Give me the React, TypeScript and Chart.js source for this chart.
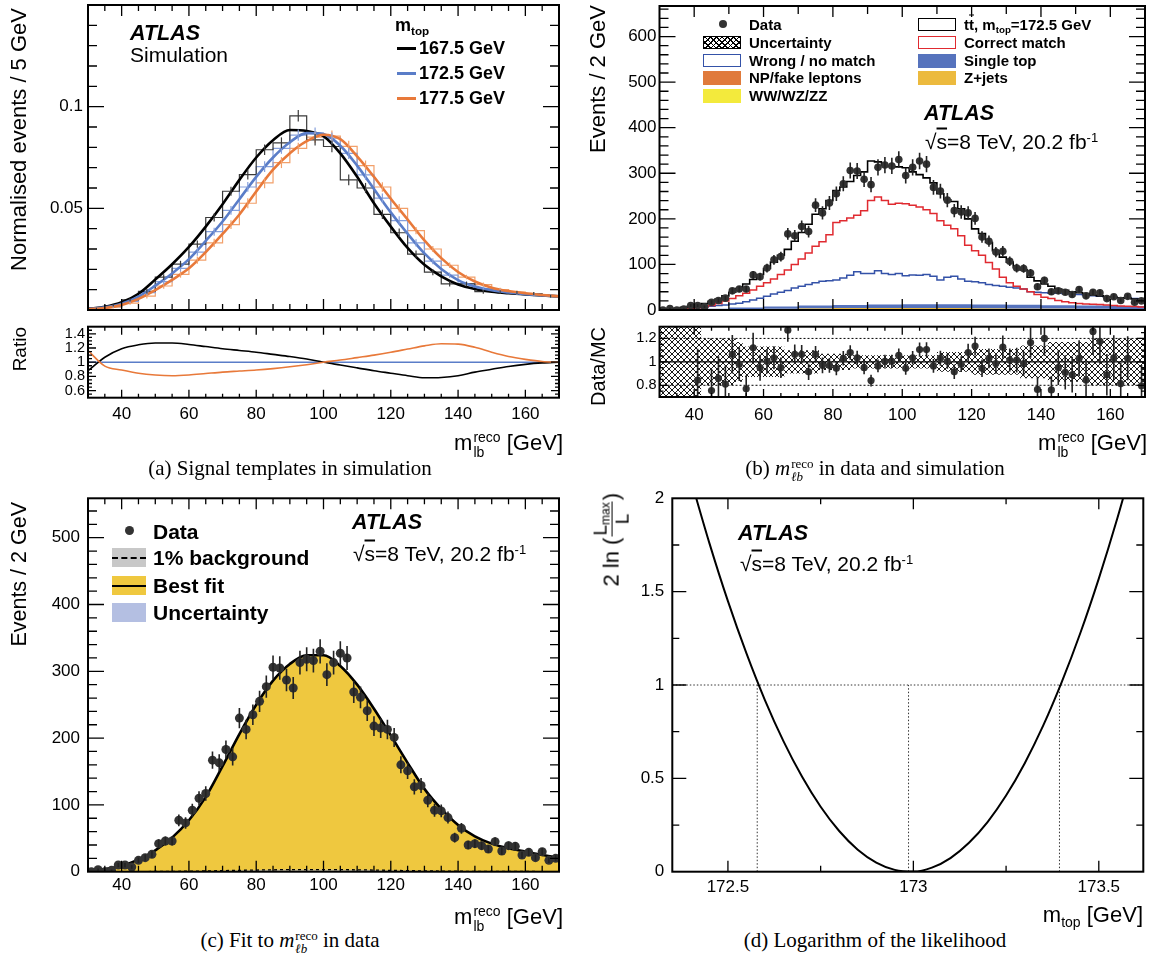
import React, { useEffect, useRef } from "react";
import { Chart, registerables } from "chart.js";

Chart.register(...registerables);

const SANS = "'Liberation Sans', Arial, Helvetica, sans-serif";
const SERIF = "'Liberation Serif', 'Times New Roman', serif";
const TICK_FONT = 17;

// ---------------- shared m_lb axis ----------------
const MLB_MIN = 30;
const MLB_MAX = 170;
const mlbTicks = [40, 60, 80, 100, 120, 140, 160];

// ---------------- (a) signal templates (5 GeV) ----------------
const TEMPLATE_BIN = 5;
const curve1675 = [0.0006, 0.0016, 0.0038, 0.008, 0.015, 0.0225, 0.031, 0.041, 0.052, 0.064, 0.075, 0.0835, 0.0885, 0.088, 0.0855, 0.077, 0.0655, 0.0525, 0.041, 0.0305, 0.0222, 0.0165, 0.0125, 0.0103, 0.009, 0.0082, 0.0076, 0.0071, 0.0067];
const curve1725 = [0.0005, 0.0013, 0.0031, 0.0066, 0.012, 0.018, 0.025, 0.034, 0.0435, 0.0545, 0.0655, 0.075, 0.0825, 0.087, 0.0865, 0.0808, 0.071, 0.0595, 0.048, 0.0375, 0.0278, 0.0202, 0.0147, 0.0115, 0.0097, 0.0086, 0.0078, 0.0072, 0.0067];
const curve1775 = [0.0004, 0.001, 0.0025, 0.0055, 0.0098, 0.0148, 0.0205, 0.0285, 0.0374, 0.047, 0.0583, 0.069, 0.0771, 0.083, 0.0862, 0.084, 0.0756, 0.0655, 0.0547, 0.0445, 0.0342, 0.0255, 0.0187, 0.014, 0.011, 0.0093, 0.0082, 0.0074, 0.0067];
const hist1675 = [0.0008, 0.0022, 0.005, 0.0092, 0.0162, 0.0226, 0.0324, 0.0455, 0.0584, 0.0666, 0.0788, 0.0822, 0.0955, 0.0837, 0.0804, 0.064, 0.06, 0.047, 0.038, 0.0275, 0.0186, 0.0128, 0.0128, 0.009, 0.0088, 0.0085, 0.008, 0.0068];
const hist1725 = [0.0006, 0.0017, 0.0042, 0.0085, 0.014, 0.0205, 0.0285, 0.0385, 0.049, 0.0605, 0.0705, 0.0795, 0.086, 0.087, 0.0845, 0.077, 0.0665, 0.055, 0.044, 0.033, 0.024, 0.0172, 0.013, 0.0105, 0.0092, 0.0082, 0.0075, 0.0069];
const hist1775 = [0.0005, 0.0014, 0.0034, 0.0068, 0.0118, 0.0175, 0.0245, 0.033, 0.042, 0.0525, 0.0625, 0.0725, 0.0795, 0.085, 0.0855, 0.0805, 0.071, 0.0605, 0.05, 0.039, 0.03, 0.022, 0.0162, 0.0125, 0.01, 0.0088, 0.0078, 0.007];
const histErr = [0.0003, 0.0005, 0.0008, 0.0011, 0.0014, 0.0016, 0.0018, 0.002, 0.0022, 0.0024, 0.0026, 0.0027, 0.0028, 0.0028, 0.0028, 0.0027, 0.0025, 0.0023, 0.0021, 0.0018, 0.0015, 0.0013, 0.0011, 0.001, 0.0009, 0.0008, 0.0008, 0.0007];
const ratio1675 = [0.88, 1.07, 1.19, 1.245, 1.27, 1.27, 1.25, 1.22, 1.19, 1.165, 1.14, 1.11, 1.08, 1.045, 1.0, 0.96, 0.92, 0.88, 0.845, 0.81, 0.78, 0.785, 0.81, 0.86, 0.9, 0.94, 0.97, 0.99, 1.0];
const ratio1725 = [1, 1, 1, 1, 1, 1, 1, 1, 1, 1, 1, 1, 1, 1, 1, 1, 1, 1, 1, 1, 1, 1, 1, 1, 1, 1, 1, 1, 1];
const ratio1775 = [1.165, 0.945, 0.89, 0.845, 0.82, 0.81, 0.82, 0.84, 0.86, 0.875, 0.89, 0.91, 0.935, 0.965, 1.0, 1.03, 1.065, 1.1, 1.14, 1.185, 1.23, 1.26, 1.255, 1.21, 1.14, 1.08, 1.04, 1.01, 1.0];
const aYTicks = [0.05, 0.1];
const aRatioTicks = [0.6, 0.8, 1, 1.2, 1.4];

// ---------------- (b)/(c) data and simulation (2 GeV) ----------------
const DATA_BIN = 2;
const dataCounts = [0, 3, 0, 2, 10, 10, 7, 17, 21, 26, 42, 46, 46, 77, 73, 92, 110, 117, 167, 163, 183, 172, 230, 213, 235, 255, 277, 306, 305, 287, 275, 313, 318, 316, 330, 295, 313, 327, 320, 269, 261, 241, 218, 215, 213, 201, 160, 151, 127, 129, 107, 92, 91, 81, 51, 65, 40, 42, 39, 34, 45, 31, 39, 38, 25, 29, 21, 30, 17, 20];
const mcTotal = [2, 3, 4, 6, 8, 11, 14, 19, 24, 31, 39, 47, 57, 67, 78, 91, 105, 120, 133, 151, 170, 188, 210, 222, 240, 262, 270, 282, 295, 303, 327, 325, 317, 315, 314, 312, 303, 297, 290, 279, 255, 242, 238, 222, 200, 178, 168, 148, 130, 116, 105, 93, 88, 72, 64, 57, 52, 46, 43, 40, 38, 36, 33, 31, 29, 28, 27, 26, 24, 23];
const correctMatch = [0.5, 1, 1.5, 2.5, 3.5, 5, 7, 10, 14, 20, 25, 31, 37, 44, 52, 60, 68, 78, 88, 100, 112, 125, 140, 150, 165, 192, 196, 202, 208, 218, 240, 248, 240, 232, 234, 233, 230, 226, 220, 212, 196, 186, 178, 163, 142, 130, 120, 104, 90, 72, 60, 52, 46, 40, 34, 28, 25, 21, 18, 16, 14, 13, 12.5, 12, 11, 10, 9, 8.5, 7.5, 6.5];
const wrongMatch = [0.5, 1, 1.5, 2.5, 3.5, 5, 6.5, 8, 10, 11, 13, 15, 18, 22, 26, 30, 35, 39, 43, 48, 52, 56, 60, 63, 64, 66, 70, 76, 84, 80, 80, 86, 80, 78, 80, 75, 77, 76, 78, 74, 66, 72, 74, 68, 63, 62, 60, 56, 54, 52, 50, 48, 46, 40, 39, 38, 37, 37, 36, 35, 34, 32, 31, 30, 29, 28, 27, 26, 25, 24];
const BKG_BIN = 10;
const diboson = [0.05, 0.1, 0.15, 0.2, 0.25, 0.3, 0.3, 0.3, 0.3, 0.28, 0.25, 0.22, 0.2, 0.18];
const npFake = [0.1, 0.3, 0.6, 0.8, 1, 1.1, 1.2, 1.2, 1.1, 1, 0.9, 0.8, 0.7, 0.6];
const zJets = [0.3, 0.8, 1.5, 2, 2.5, 2.8, 3, 3, 2.8, 2.5, 2.2, 2, 1.8, 1.6];
const singleTop = [0.5, 1.5, 3, 4.5, 6, 7, 7.5, 8, 8.5, 8.5, 8, 7.5, 7, 6.5];
const dataOverMC = [null, null, null, null, null, 0.845, null, 0.755, 0.86, 0.81, 1.065, 0.98, 0.77, 1.12, 0.95, 1.005, 1.035, 0.95, 1.27, 1.065, 1.065, 0.915, 1.065, 0.97, 0.97, 0.945, 1.03, 1.08, 1.035, 0.95, 0.84, 0.965, 1.005, 1.005, 1.055, 0.945, 1.035, 1.105, 1.105, 0.965, 1.03, 1.005, 0.915, 0.98, 1.08, 1.135, 0.945, 1.03, 0.985, 1.125, 1.015, 1.015, 0.985, 1.165, 0.765, 1.2, 0.76, 0.95, 0.91, 0.89, 1.03, 0.845, 1.26, 1.175, 0.89, 1.035, 0.815, 1.03, null, 0.795];
const mcUncHalf = [0.5, 0.5, 0.5, 0.5, 0.5, 0.5, 0.2, 0.2, 0.2, 0.2, 0.2, 0.17, 0.13, 0.13, 0.13, 0.13, 0.13, 0.13, 0.1, 0.1, 0.1, 0.1, 0.1, 0.07, 0.07, 0.07, 0.07, 0.07, 0.056, 0.056, 0.056, 0.056, 0.056, 0.056, 0.056, 0.056, 0.056, 0.056, 0.056, 0.056, 0.085, 0.085, 0.085, 0.085, 0.085, 0.11, 0.11, 0.11, 0.11, 0.11, 0.11, 0.11, 0.14, 0.14, 0.14, 0.14, 0.17, 0.17, 0.17, 0.17, 0.17, 0.17, 0.2, 0.2, 0.2, 0.2, 0.2, 0.2, 0.2, 0.2];
const bYTicks = [0, 100, 200, 300, 400, 500, 600];
const bRatioTicks = [0.8, 1, 1.2];
const bRatioRefs = [0.8, 1.2];
const RATIO_UNITY = 1;

// ---------------- (c) fit ----------------
const FIT_STEP = 5;
const fitCurve = [1.5, 4, 9, 18, 32, 51, 77, 112, 158, 206, 250, 286, 311, 324, 324, 308, 280, 244, 204, 163, 124, 94, 70, 53, 42, 35, 30, 25, 21];
const bkgCurve = [0.02, 0.04, 0.09, 0.18, 0.32, 0.51, 0.77, 1.12, 1.58, 2.06, 2.5, 2.86, 3.11, 3.24, 3.24, 3.08, 2.8, 2.44, 2.04, 1.63, 1.24, 0.94, 0.7, 0.53, 0.42, 0.35, 0.3, 0.25, 0.21];
const cYTicks = [0, 100, 200, 300, 400, 500];

// ---------------- (d) likelihood ----------------
const MTOP_MIN = 172.35;
const MTOP_MAX = 173.62;
const mtopScan = [172.4, 172.45, 172.5, 172.55, 172.6, 172.65, 172.7, 172.75, 172.8, 172.85, 172.9, 172.95, 173.0, 173.05, 173.1, 173.15, 173.2, 173.25, 173.3, 173.35, 173.4, 173.45, 173.5, 173.55, 173.6];
const twoDeltaLnL = [2.1, 1.76, 1.449, 1.169, 0.918, 0.698, 0.508, 0.348, 0.218, 0.118, 0.049, 0.0097, 0.0006, 0.0217, 0.073, 0.155, 0.266, 0.408, 0.58, 0.782, 1.015, 1.277, 1.57, 1.893, 2.246];
const mtopInterval = [172.579, 172.987, 173.394];
const ONE_SIGMA_LEVEL = 1;
const dXTicks = [172.5, 173, 173.5];
const dYTicks = [0, 0.5, 1, 1.5, 2];

// ---------------- helpers ----------------
const histPts = (vals: number[], start: number, w: number) =>
  vals.flatMap((v, i) => [{ x: start + i * w, y: v }, { x: start + (i + 1) * w, y: v }]);
const linePts = (vals: any[], start: number, step: number, offset = 0) =>
  vals.map((v, i) => ({ x: start + offset + i * step, y: v }));
const cumulate = (...arrs: number[][]) => arrs[0].map((_, i) => arrs.reduce((s, a) => s + a[i], 0));

type Rect = { l: number; t: number; w: number; h: number };
type Frame = { l: number; t: number; r: number; b: number };
type Axis = {
  min: number; max: number; ticks?: number[]; font?: number; pad?: number;
  major: number; minor: number; majLen: number; minLen: number;
};

function makeFramePlugin(xa: Axis, ya: Axis) {
  const gen = (min: number, max: number, step: number) => {
    const out: number[] = [];
    const k0 = Math.ceil(min / step - 1e-6), k1 = Math.floor(max / step + 1e-6);
    for (let k = k0; k <= k1; k++) out.push(+(k * step).toFixed(6));
    return out;
  };
  const isMaj = (v: number, m: number) => Math.abs(v / m - Math.round(v / m)) < 1e-6;
  return {
    id: "frameTicks",
    afterDraw(chart: any) {
      const { ctx, chartArea: a } = chart;
      const sx = chart.scales.x, sy = chart.scales.y;
      ctx.save();
      ctx.strokeStyle = "#000";
      ctx.lineWidth = 1.3;
      ctx.beginPath();
      for (const v of gen(xa.min, xa.max, xa.minor)) {
        const p = sx.getPixelForValue(v);
        if (p <= a.left + 1 || p >= a.right - 1) continue;
        const len = isMaj(v, xa.major) ? xa.majLen : xa.minLen;
        ctx.moveTo(p, a.bottom); ctx.lineTo(p, a.bottom - len);
        ctx.moveTo(p, a.top); ctx.lineTo(p, a.top + len);
      }
      for (const v of gen(ya.min, ya.max, ya.minor)) {
        const p = sy.getPixelForValue(v);
        if (p <= a.top + 1 || p >= a.bottom - 1) continue;
        const len = isMaj(v, ya.major) ? ya.majLen : ya.minLen;
        ctx.moveTo(a.left, p); ctx.lineTo(a.left + len, p);
        ctx.moveTo(a.right, p); ctx.lineTo(a.right - len, p);
      }
      ctx.stroke();
      ctx.lineWidth = 2;
      ctx.strokeRect(a.left, a.top, a.right - a.left, a.bottom - a.top);
      ctx.restore();
    },
  };
}

const errorBarPlugin = {
  id: "errorBars",
  afterDatasetsDraw(chart: any) {
    const { ctx, chartArea: a } = chart;
    const sx = chart.scales.x, sy = chart.scales.y;
    ctx.save();
    ctx.beginPath();
    ctx.rect(a.left, a.top, a.right - a.left, a.bottom - a.top);
    ctx.clip();
    chart.data.datasets.forEach((ds: any) => {
      const errs = ds.errorBars;
      if (!errs) return;
      ctx.strokeStyle = ds.errorColor || "#222";
      ctx.lineWidth = ds.errorWidth || 1.5;
      ds.data.forEach((p: any, j: number) => {
        if (!p || p.y == null || errs[j] == null) return;
        const x = sx.getPixelForValue(p.x);
        const y1 = sy.getPixelForValue(p.y - errs[j]);
        const y2 = sy.getPixelForValue(p.y + errs[j]);
        ctx.beginPath();
        ctx.moveTo(x, y1);
        ctx.lineTo(x, y2);
        ctx.stroke();
      });
    });
    ctx.restore();
  },
};

function axisOpts(ax: Axis, isY: boolean, size: number, showLabels: boolean) {
  return {
    type: "linear",
    min: ax.min,
    max: ax.max,
    display: true,
    afterFit: (s: any) => {
      if (isY) s.width = size;
      else s.height = size;
    },
    afterBuildTicks: (s: any) => {
      if (ax.ticks) s.ticks = ax.ticks.map((v) => ({ value: v }));
    },
    ticks: {
      display: showLabels,
      font: { family: SANS, size: ax.font || TICK_FONT },
      color: "#000",
      padding: ax.pad ?? 4,
      autoSkip: false,
      maxRotation: 0,
      minRotation: 0,
      callback: (v: any) => String(v),
    },
    grid: { display: false, drawTicks: false },
    border: { display: false },
  };
}

function buildChart(canvas: HTMLCanvasElement, rect: Rect, fr: Frame, xa: Axis, ya: Axis, datasets: any[]) {
  const showX = !!xa.ticks;
  const padTop = fr.t - rect.t;
  const padRight = rect.l + rect.w - fr.r;
  const yW = fr.l - rect.l;
  const bottomSpace = rect.t + rect.h - fr.b;
  // first dataset in the list is drawn first (bottom), last on top
  const ordered = datasets.map((d, i) => ({ ...d, order: datasets.length - i }));
  return new Chart(canvas, {
    type: "line",
    data: { datasets: ordered },
    options: {
      animation: false,
      responsive: false,
      maintainAspectRatio: false,
      events: [],
      layout: { padding: { left: 0, top: padTop, right: padRight, bottom: 0 } },
      plugins: { legend: { display: false }, tooltip: { enabled: false } },
      elements: { point: { radius: 0 }, line: { tension: 0 } },
      scales: {
        x: axisOpts(xa, false, bottomSpace, showX),
        y: axisOpts(ya, true, yW, true),
      },
    } as any,
    plugins: [makeFramePlugin(xa, ya), errorBarPlugin],
  });
}

function makeHatch() {
  const c = document.createElement("canvas");
  c.width = 6;
  c.height = 6;
  const g = c.getContext("2d")!;
  g.strokeStyle = "#000";
  g.lineWidth = 0.9;
  g.beginPath();
  g.moveTo(-1, -1); g.lineTo(7, 7);
  g.moveTo(7, -1); g.lineTo(-1, 7);
  g.stroke();
  return g.createPattern(c, "repeat");
}

// ---------------- layout (page coordinates) ----------------
const R_A = { l: 0, t: -20, w: 576, h: 350 };
const F_A = { l: 88, t: 5, r: 559, b: 310 };
const R_AR = { l: 0, t: 300, w: 576, h: 135 };
const F_AR = { l: 88, t: 326.7, r: 559, b: 397.7 };
const R_B = { l: 576, t: -20, w: 577, h: 350 };
const F_B = { l: 659.5, t: 6, r: 1145, b: 310 };
const R_BR = { l: 576, t: 300, w: 577, h: 135 };
const F_BR = { l: 659.5, t: 326.7, r: 1145, b: 397 };
const R_C = { l: 0, t: 470, w: 576, h: 440 };
const F_C = { l: 88, t: 498.3, r: 559, b: 871.7 };
const R_D = { l: 576, t: 470, w: 577, h: 440 };
const F_D = { l: 672.3, t: 498.3, r: 1143.3, b: 871.7 };

const COL_BLACK = "#000";
const COL_BLUE = "#5a7dc8";
const COL_ORANGE = "#e8793a";

// ---------------- text helpers ----------------
const T = ({ x, y, size = 20, bold = false, italic = false, align = "left", family = SANS, children }: any) => {
  const tx = align === "left" ? "0" : align === "center" ? "-50%" : "-100%";
  return (
    <div
      style={{
        position: "absolute", left: x, top: y, transform: `translate(${tx}, -50%)`,
        fontFamily: family, fontSize: size, fontWeight: bold ? "bold" : "normal",
        fontStyle: italic ? "italic" : "normal", whiteSpace: "nowrap", lineHeight: 1, color: "#000",
      }}
    >
      {children}
    </div>
  );
};
const Sub = ({ children }: any) => (
  <span style={{ fontSize: "0.65em", position: "relative", top: "0.35em" }}>{children}</span>
);
const Sup = ({ children }: any) => (
  <span style={{ fontSize: "0.62em", position: "relative", top: "-0.55em" }}>{children}</span>
);
const VT = ({ cx, top, size, children }: any) => (
  <div style={{ position: "absolute", left: cx, top, width: 0, height: 0 }}>
    <div
      style={{
        position: "absolute", right: 0, top: 0, transformOrigin: "right top",
        transform: "rotate(-90deg) translateY(-50%)", whiteSpace: "nowrap", fontFamily: SANS,
        fontSize: size, lineHeight: 1, display: "flex", alignItems: "center",
      }}
    >
      {children}
    </div>
  </div>
);
const Mlb = ({ right, y }: any) => (
  <div
    style={{
      position: "absolute", left: right, top: y, transform: "translate(-100%, -50%)", display: "flex",
      alignItems: "center", fontFamily: SANS, fontSize: 22, lineHeight: 1, whiteSpace: "pre",
    }}
  >
    <span>m</span>
    <span style={{ display: "inline-flex", flexDirection: "column", fontSize: 14, lineHeight: 1.05, marginLeft: 1, marginTop: 3 }}>
      <span>reco</span>
      <span>lb</span>
    </span>
    <span> [GeV]</span>
  </div>
);
const MlbCaption = () => (
  <span style={{ display: "inline-flex", alignItems: "center" }}>
    <i>m</i>
    <span style={{ display: "inline-flex", flexDirection: "column", fontSize: 13, lineHeight: 1, marginLeft: 1, marginTop: 4 }}>
      <span>reco</span>
      <i>ℓb</i>
    </span>
  </span>
);
const Sqrt = () => (
  <span>
    √<span style={{ textDecoration: "overline" }}>s</span>=8 TeV, 20.2 fb<Sup>-1</Sup>
  </span>
);
const Box = ({ x, y, w, h, bg = "#fff", border = "none", children }: any) => (
  <div style={{ position: "absolute", left: x, top: y, width: w, height: h, background: bg, border, boxSizing: "border-box" }}>
    {children}
  </div>
);
const HATCH_CSS =
  "repeating-linear-gradient(45deg, #000 0 1px, transparent 1px 4px), repeating-linear-gradient(-45deg, #000 0 1px, transparent 1px 4px), #fff";

export default function App() {
  const rA = useRef<HTMLCanvasElement>(null);
  const rAR = useRef<HTMLCanvasElement>(null);
  const rB = useRef<HTMLCanvasElement>(null);
  const rBR = useRef<HTMLCanvasElement>(null);
  const rC = useRef<HTMLCanvasElement>(null);
  const rD = useRef<HTMLCanvasElement>(null);

  useEffect(() => {
    const hatch = makeHatch();
    const xMlbHidden = (minor: number, minLen: number): Axis => ({ min: MLB_MIN, max: MLB_MAX, major: 20, minor, majLen: 11, minLen });
    const xMlbLabelled = (pad: number, majLen: number, minLen: number): Axis => ({
      min: MLB_MIN, max: MLB_MAX, ticks: mlbTicks, font: TICK_FONT, pad, major: 20, minor: 5, majLen, minLen,
    });

    const dataErr = dataCounts.map((v) => Math.sqrt(v));
    const dataDs = (r: number) => ({
      data: linePts(dataCounts, MLB_MIN, DATA_BIN, DATA_BIN / 2), showLine: false, pointRadius: r,
      pointBackgroundColor: "#333", pointBorderColor: "#333", pointBorderWidth: 0,
      errorBars: dataErr, errorColor: "#222", errorWidth: 1.6,
    });

    // (a) main
    const tplHist = (vals: number[], col: string) => ({ data: histPts(vals, MLB_MIN, TEMPLATE_BIN), borderColor: col, borderWidth: 1.2, fill: false });
    const tplErr = (vals: number[], col: string) => ({
      data: linePts(vals, MLB_MIN, TEMPLATE_BIN, TEMPLATE_BIN / 2), showLine: false, pointRadius: 0,
      errorBars: histErr, errorColor: col, errorWidth: 1.2,
    });
    const tplCurve = (vals: number[], col: string, w: number) => ({
      data: linePts(vals, MLB_MIN, TEMPLATE_BIN), borderColor: col, borderWidth: w, cubicInterpolationMode: "monotone", fill: false,
    });
    const chA = buildChart(
      rA.current!, R_A, F_A, xMlbHidden(5, 6),
      { min: 0, max: 0.15, ticks: aYTicks, font: TICK_FONT, pad: 5, major: 0.05, minor: 0.01, majLen: 16, minLen: 9 },
      [
        tplHist(hist1775, "#f2a06a"), tplHist(hist1725, "#86a0dc"), tplHist(hist1675, "#3a3a3a"),
        tplErr(hist1775, "#f2a06a"), tplErr(hist1725, "#86a0dc"), tplErr(hist1675, "#3a3a3a"),
        tplCurve(curve1675, COL_BLACK, 2.6), tplCurve(curve1725, COL_BLUE, 2.6), tplCurve(curve1775, COL_ORANGE, 2.6),
      ]
    );
    const chAR = buildChart(
      rAR.current!, R_AR, F_AR, xMlbLabelled(6, 8, 4),
      { min: 0.5, max: 1.5, ticks: aRatioTicks, font: 14.5, pad: 3, major: 0.2, minor: 0.05, majLen: 8, minLen: 4 },
      [
        tplCurve(ratio1725, COL_BLUE, 1.5), tplCurve(ratio1675, COL_BLACK, 1.6), tplCurve(ratio1775, COL_ORANGE, 1.6),
      ]
    );

    // (b) main
    const ww = diboson;
    const wwNp = cumulate(diboson, npFake);
    const wwNpZ = cumulate(diboson, npFake, zJets);
    const wwNpZSt = cumulate(diboson, npFake, zJets, singleTop);
    const bkgDs = (vals: number[], col: string, fill: any) => ({ data: histPts(vals, MLB_MIN, BKG_BIN), borderWidth: 0, backgroundColor: col, fill });
    const chB = buildChart(
      rB.current!, R_B, F_B, xMlbHidden(10, 8),
      { min: 0, max: 667, ticks: bYTicks, font: TICK_FONT, pad: 3, major: 100, minor: 20, majLen: 16, minLen: 9 },
      [
        bkgDs(ww, "#f3ea3c", "origin"),
        bkgDs(wwNp, "#e07a3b", "-1"),
        bkgDs(wwNpZ, "#ecba3e", "-1"),
        bkgDs(wwNpZSt, "#5673bd", "-1"),
        { data: histPts(wrongMatch, MLB_MIN, DATA_BIN), borderColor: "#3452a8", borderWidth: 1.5, fill: false },
        { data: histPts(correctMatch, MLB_MIN, DATA_BIN), borderColor: "#e02a30", borderWidth: 1.5, fill: false },
        { data: histPts(mcTotal, MLB_MIN, DATA_BIN), borderColor: "#000", borderWidth: 1.6, fill: false },
        dataDs(3.8),
      ]
    );

    // (b) ratio
    const bandUp = mcUncHalf.map((h) => RATIO_UNITY + h);
    const bandDn = mcUncHalf.map((h) => RATIO_UNITY - h);
    const ratioErr = dataOverMC.map((r, i) => (r == null ? null : r / Math.sqrt(dataCounts[i])));
    const chBR = buildChart(
      rBR.current!, R_BR, F_BR, xMlbLabelled(8, 8, 4),
      { min: 0.7, max: 1.3, ticks: bRatioTicks, font: 14.5, pad: 3, major: 0.2, minor: 0.05, majLen: 8, minLen: 4 },
      [
        { data: histPts(bandUp, MLB_MIN, DATA_BIN), borderWidth: 0, backgroundColor: hatch, fill: "+1" },
        { data: histPts(bandDn, MLB_MIN, DATA_BIN), borderWidth: 0, fill: false },
        ...bRatioRefs.map((r) => ({
          data: [{ x: MLB_MIN, y: r }, { x: MLB_MAX, y: r }], borderColor: "#000", borderWidth: 1, borderDash: [2, 2], fill: false,
        })),
        { data: [{ x: MLB_MIN, y: RATIO_UNITY }, { x: MLB_MAX, y: RATIO_UNITY }], borderColor: "#000", borderWidth: 1.4, fill: false },
        {
          data: linePts(dataOverMC, MLB_MIN, DATA_BIN, DATA_BIN / 2), showLine: false, pointRadius: 3.6,
          pointBackgroundColor: "#333", pointBorderWidth: 0, errorBars: ratioErr, errorColor: "#222", errorWidth: 1.6,
        },
      ]
    );

    // (c)
    const chC = buildChart(
      rC.current!, R_C, F_C, xMlbLabelled(3, 11, 6),
      { min: 0, max: 559, ticks: cYTicks, font: TICK_FONT, pad: 8, major: 100, minor: 20, majLen: 16, minLen: 9 },
      [
        {
          data: linePts(fitCurve, MLB_MIN, FIT_STEP), borderColor: "#000", borderWidth: 2.6,
          backgroundColor: "#efc83f", fill: "origin", cubicInterpolationMode: "monotone",
        },
        {
          data: linePts(bkgCurve, MLB_MIN, FIT_STEP), borderColor: "#000", borderWidth: 1.3, borderDash: [3, 3],
          backgroundColor: "rgba(190,190,190,0.8)", fill: "origin", cubicInterpolationMode: "monotone",
        },
        dataDs(4.5),
      ]
    );

    // (d)
    const chD = buildChart(
      rD.current!, R_D, F_D,
      { min: MTOP_MIN, max: MTOP_MAX, ticks: dXTicks, font: TICK_FONT, pad: 5, major: 0.5, minor: 0.25, majLen: 11, minLen: 6 },
      { min: 0, max: 2, ticks: dYTicks, font: TICK_FONT, pad: 8, major: 0.5, minor: 0.25, majLen: 14, minLen: 7 },
      [
        { data: [{ x: MTOP_MIN, y: ONE_SIGMA_LEVEL }, { x: MTOP_MAX, y: ONE_SIGMA_LEVEL }], borderColor: "#333", borderWidth: 1, borderDash: [1.5, 2], fill: false },
        ...mtopInterval.map((m) => ({
          data: [{ x: m, y: 0 }, { x: m, y: ONE_SIGMA_LEVEL }], borderColor: "#333", borderWidth: 1, borderDash: [1.5, 2], fill: false,
        })),
        {
          data: mtopScan.map((m, i) => ({ x: m, y: twoDeltaLnL[i] })), borderColor: "#000", borderWidth: 2,
          cubicInterpolationMode: "monotone", fill: false,
        },
      ]
    );

    const charts = [chA, chAR, chB, chBR, chC, chD];
    return () => charts.forEach((c) => c.destroy());
  }, []);

  const cv = (ref: any, r: Rect) => (
    <canvas ref={ref} width={r.w} height={r.h} style={{ position: "absolute", left: r.l, top: r.t, width: r.w, height: r.h }} />
  );

  return (
    <div style={{ position: "absolute", left: 0, top: 0, width: 1153, height: 956, background: "#fff", overflow: "hidden", fontFamily: SANS }}>
      {cv(rA, R_A)}
      {cv(rAR, R_AR)}
      {cv(rB, R_B)}
      {cv(rBR, R_BR)}
      {cv(rC, R_C)}
      {cv(rD, R_D)}

      {/* ---------- (a) ---------- */}
      <T x={130} y={34} size={21.5} bold italic>ATLAS</T>
      <T x={130} y={54} size={21}>Simulation</T>
      <T x={395} y={25} size={18} bold>m<Sub>top</Sub></T>
      <Box x={397} y={47} w={19} h={3} bg={COL_BLACK} />
      <Box x={397} y={72} w={19} h={3} bg={COL_BLUE} />
      <Box x={397} y={97} w={19} h={3} bg={COL_ORANGE} />
      <T x={419} y={48} size={18} bold>167.5 GeV</T>
      <T x={419} y={73} size={18} bold>172.5 GeV</T>
      <T x={419} y={98} size={18} bold>177.5 GeV</T>
      <VT cx={19} top={8} size={22}>Normalised events / 5 GeV</VT>
      <VT cx={19} top={327} size={19}>Ratio</VT>
      <Mlb right={563} y={443} />
      <T x={290} y={468} size={21} family={SERIF} align="center">(a) Signal templates in simulation</T>

      {/* ---------- (b) ---------- */}
      <div style={{ position: "absolute", left: 719, top: 20, width: 8, height: 8, borderRadius: 4, background: "#333" }} />
      <Box x={703} y={36} w={38} h={13} bg={HATCH_CSS} border="1.5px solid #000" />
      <Box x={703} y={54} w={38} h={13} border="1.5px solid #3452a8" />
      <Box x={703} y={71} w={38} h={14} bg="#e07a3b" />
      <Box x={703} y={89} w={38} h={14} bg="#f3ea3c" />
      <T x={749} y={24} size={15} bold>Data</T>
      <T x={749} y={42} size={15} bold>Uncertainty</T>
      <T x={749} y={60} size={15} bold>Wrong / no match</T>
      <T x={749} y={77} size={15} bold>NP/fake leptons</T>
      <T x={749} y={95} size={15} bold>WW/WZ/ZZ</T>
      <Box x={918} y={18} w={38} h={13} border="1.5px solid #000" />
      <Box x={918} y={36} w={38} h={13} border="1.5px solid #e02a30" />
      <Box x={918} y={54} w={38} h={14} bg="#5673bd" />
      <Box x={918} y={71} w={38} h={14} bg="#ecba3e" />
      <T x={964} y={24} size={15} bold>
        t<span style={{ textDecoration: "overline" }}>t</span>, m<Sub>top</Sub>=172.5 GeV
      </T>
      <T x={964} y={42} size={15} bold>Correct match</T>
      <T x={964} y={60} size={15} bold>Single top</T>
      <T x={964} y={77} size={15} bold>Z+jets</T>
      <T x={924} y={114} size={21.5} bold italic>ATLAS</T>
      <T x={925} y={141} size={21}><Sqrt /></T>
      <VT cx={598} top={5} size={22}>Events / 2 GeV</VT>
      <VT cx={598} top={327} size={20}>Data/MC</VT>
      <Mlb right={1147} y={443} />
      <T x={875} y={468} size={21} family={SERIF} align="center">
        <span style={{ display: "inline-flex", alignItems: "center", whiteSpace: "pre" }}>
          (b) <MlbCaption /> in data and simulation
        </span>
      </T>

      {/* ---------- (c) ---------- */}
      <div style={{ position: "absolute", left: 124.5, top: 526, width: 9, height: 9, borderRadius: 4.5, background: "#333" }} />
      <Box x={112} y={548} w={34} h={19} bg="#c8c8c8">
        <div style={{ position: "absolute", left: 0, right: 0, top: 8.5, borderTop: "2px dashed #000" }} />
      </Box>
      <Box x={112} y={576} w={34} h={19} bg="#efc83f">
        <div style={{ position: "absolute", left: 0, right: 0, top: 8.5, borderTop: "2px solid #000" }} />
      </Box>
      <Box x={112} y={603} w={34} h={19} bg="#b4bfe2" />
      <T x={153} y={531} size={21} bold>Data</T>
      <T x={153} y={557} size={21} bold>1% background</T>
      <T x={153} y={585} size={21} bold>Best fit</T>
      <T x={153} y={612} size={21} bold>Uncertainty</T>
      <T x={352} y={523} size={21.5} bold italic>ATLAS</T>
      <T x={353} y={553} size={21}><Sqrt /></T>
      <VT cx={20} top={502} size={21.5}>Events / 2 GeV</VT>
      <Mlb right={563} y={917} />
      <T x={290} y={940} size={21} family={SERIF} align="center">
        <span style={{ display: "inline-flex", alignItems: "center", whiteSpace: "pre" }}>
          (c) Fit to <MlbCaption /> in data
        </span>
      </T>

      {/* ---------- (d) ---------- */}
      <T x={738} y={534} size={21.5} bold italic>ATLAS</T>
      <T x={740} y={563} size={21}><Sqrt /></T>
      <VT cx={611} top={493} size={22}>
        <span style={{ whiteSpace: "pre" }}>2 ln (</span>
        <span style={{ display: "inline-flex", flexDirection: "column", alignItems: "center", fontSize: 19, lineHeight: 1.05, margin: "0 1px" }}>
          <span style={{ borderBottom: "1.5px solid #000", padding: "0 1px 1px" }}>
            L<span style={{ fontSize: 12, position: "relative", top: 3 }}>max</span>
          </span>
          <span>L</span>
        </span>
        <span>)</span>
      </VT>
      <div
        style={{
          position: "absolute", left: 1143, top: 915, transform: "translate(-100%, -50%)", fontFamily: SANS,
          fontSize: 22, lineHeight: 1, whiteSpace: "pre",
        }}
      >
        m<span style={{ fontSize: 14, position: "relative", top: 5 }}>top</span> [GeV]
      </div>
      <T x={875} y={940} size={21} family={SERIF} align="center">(d) Logarithm of the likelihood</T>
    </div>
  );
}
